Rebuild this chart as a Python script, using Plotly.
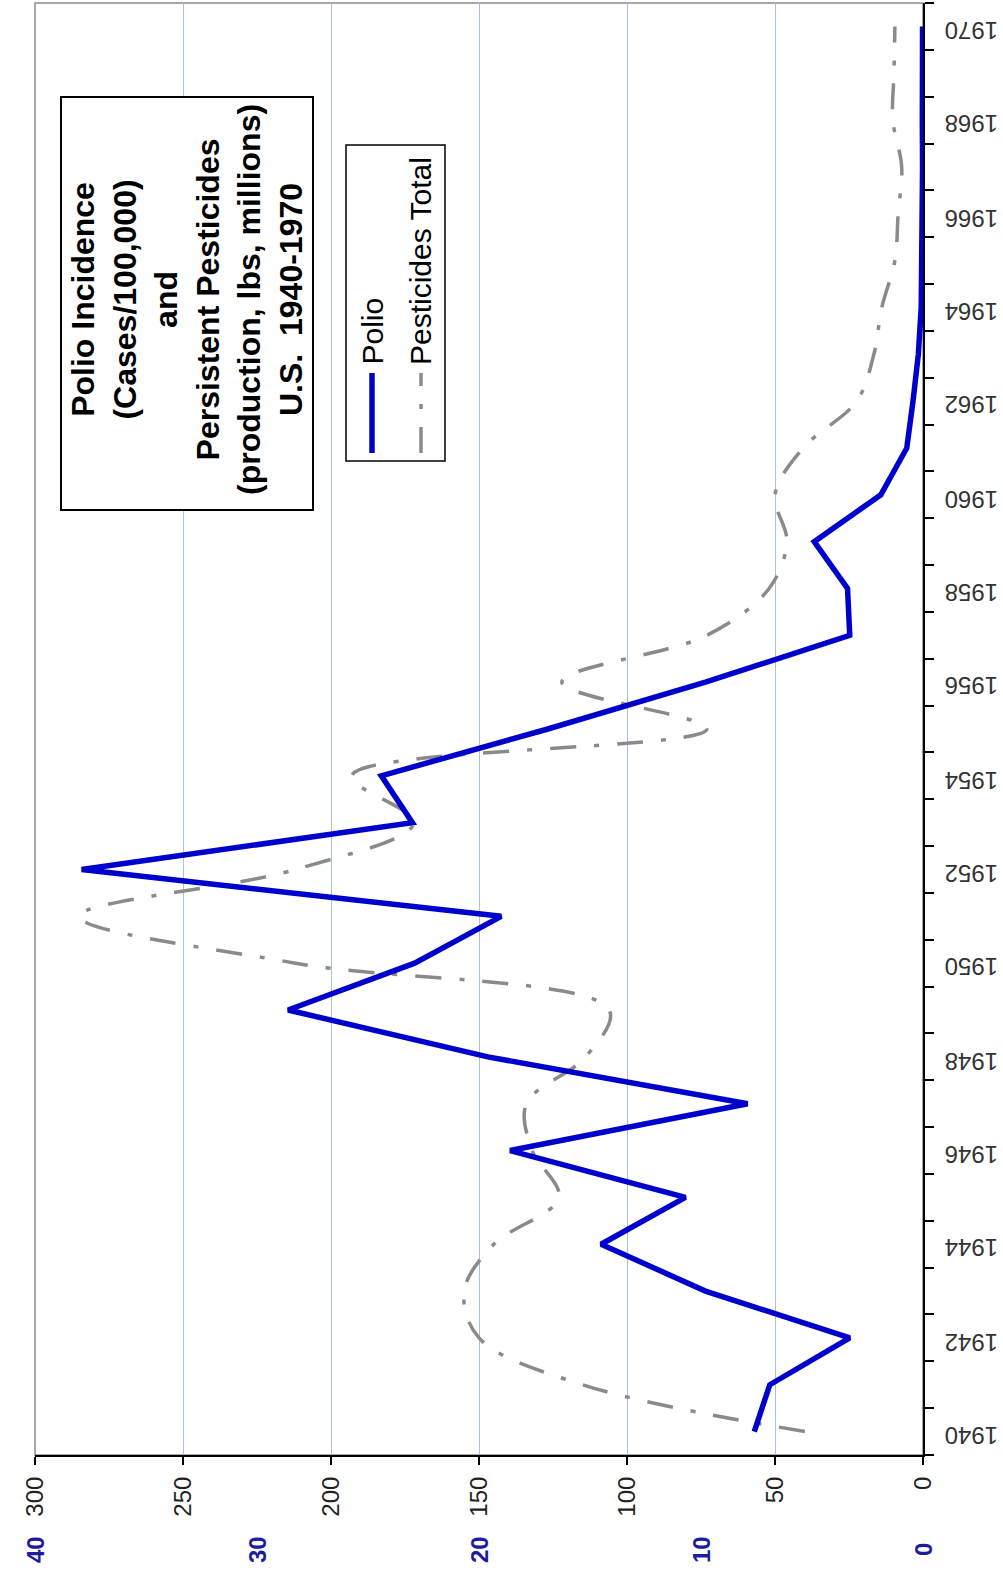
import plotly.graph_objects as go

# Series: US polio incidence (cases per 100,000) and persistent pesticide
# production (lbs, millions), 1940-1970
years = list(range(1940, 1971))
polio_rate = [7.6, 6.9, 3.3, 9.8, 14.5, 10.7, 18.6, 7.9, 19.6, 28.6, 22.9,
              19.0, 37.9, 23.0, 24.4, 16.9, 9.8, 3.3, 3.4, 4.9, 1.9,
              0.73, 0.45, 0.21, 0.08, 0.04, 0.06, 0.02, 0.03, 0.01, 0.02]
pesticides_total = [39.9, 115, 150, 155, 145, 123, 132, 134, 114, 106, 212,
                    285, 212, 172, 193, 73, 122, 73, 52, 46, 50,
                    40.5, 22.4, 16.6, 13.9, 9.5, 8.4, 7.2, 10.2, 9.8, 9.5]

pest_ticks = [0, 50, 100, 150, 200, 250, 300]
polio_ticks = [0, 10, 20, 30, 40]
year_labels = list(range(1940, 1971, 2))

title_lines = ["Polio Incidence", "(Cases/100,000)", "and",
               "Persistent Pesticides", "(production, lbs, millions)",
               "U.S.  1940-1970"]

W, H = 1003, 1595
ML, MR, MT, MB = 35, 80, 3, 140
PW, PH = W - ML - MR, H - MT - MB
FONT = "Liberation Sans, Arial, sans-serif"
BLUE = "#0000CD"
GRAY = "#8a8a8a"
DASH = "26px,18px,5px,18px"


def fx(x):
    """pixel column -> paper x"""
    return (x - ML) / PW


def fy(y):
    """pixel row -> paper y"""
    return (MT + PH - y) / PH


fig = go.Figure()

fig.add_trace(go.Scatter(
    x=pesticides_total, y=years, mode="lines", name="Pesticides Total",
    line=dict(color=GRAY, width=3.5, dash=DASH, shape="spline", smoothing=1),
    xaxis="x", yaxis="y", showlegend=False,
))
fig.add_trace(go.Scatter(
    x=polio_rate, y=years, mode="lines", name="Polio",
    line=dict(color=BLUE, width=5.5),
    xaxis="x2", yaxis="y", showlegend=False,
))

annotations = []
shapes = []

# year labels along the category axis (upside-down text)
for yr in year_labels:
    annotations.append(dict(
        x=fx(971), xref="paper", y=yr, yref="y", text=str(yr),
        showarrow=False, textangle=180, xanchor="center", yanchor="middle",
        yshift=-4, font=dict(family=FONT, size=24, color="#333"),
    ))

# secondary (polio) scale labels, bold blue, under the primary labels
for v in polio_ticks:
    annotations.append(dict(
        x=v, xref="x2", y=fy(1550), yref="paper", text=f"<b>{v}</b>",
        showarrow=False, textangle=-90, xanchor="center", yanchor="middle",
        font=dict(family=FONT, size=24, color="#1c1ca0"),
    ))

# plot-area frame (grey top/left edges)
shapes.append(dict(type="rect", xref="paper", yref="paper", x0=0, x1=1,
                   y0=0, y1=1, line=dict(color="#8c8c8c", width=1.5),
                   layer="below"))

# title box
shapes.append(dict(type="rect", xref="paper", yref="paper",
                   x0=fx(61), x1=fx(313), y0=fy(510), y1=fy(97),
                   line=dict(color="black", width=2), fillcolor="white",
                   layer="above"))
annotations.append(dict(
    x=fx(187), y=fy(300), xref="paper", yref="paper",
    text="<br>".join(f"<b>{t}</b>" for t in title_lines),
    showarrow=False, textangle=-90, align="center",
    xanchor="center", yanchor="middle",
    font=dict(family=FONT, size=32, color="black"),
))

# legend box with line samples
shapes.append(dict(type="rect", xref="paper", yref="paper",
                   x0=fx(346), x1=fx(445), y0=fy(461), y1=fy(145),
                   line=dict(color="black", width=1.5), fillcolor="white",
                   layer="above"))
shapes.append(dict(type="line", xref="paper", yref="paper",
                   x0=fx(372), x1=fx(372), y0=fy(453), y1=fy(373),
                   line=dict(color=BLUE, width=5.5), layer="above"))
shapes.append(dict(type="line", xref="paper", yref="paper",
                   x0=fx(421), x1=fx(421), y0=fy(453), y1=fy(373),
                   line=dict(color=GRAY, width=3.5, dash=DASH),
                   layer="above"))
for xc, label in [(372, "Polio"), (421, "Pesticides Total")]:
    annotations.append(dict(
        x=fx(xc), y=fy(367), xref="paper", yref="paper", text=label,
        showarrow=False, textangle=-90, xanchor="center", yanchor="bottom",
        font=dict(family=FONT, size=30, color="black"),
    ))

fig.update_layout(
    width=W, height=H,
    margin=dict(l=ML, r=MR, t=MT, b=MB, pad=0),
    paper_bgcolor="white", plot_bgcolor="white",
    showlegend=False,
    xaxis=dict(
        range=[300, 0], tickmode="array", tickvals=pest_ticks,
        ticktext=[str(v) for v in pest_ticks], tickangle=-90,
        ticks="outside", ticklen=8, tickwidth=2, tickcolor="black",
        showline=True, linecolor="black", linewidth=2,
        showgrid=True, gridcolor="#a9bfdc", gridwidth=1, zeroline=False,
        tickfont=dict(family=FONT, size=24, color="#222"),
        ticklabelstandoff=2,
    ),
    xaxis2=dict(
        range=[40, 0], overlaying="x", side="bottom", anchor="y",
        showticklabels=False, showgrid=False, showline=False, ticks="",
        zeroline=False,
    ),
    yaxis=dict(
        range=[1939.5, 1970.5], side="right", tickmode="array",
        tickvals=year_labels, showticklabels=False, ticks="",
        minor=dict(tickmode="array",
                   tickvals=[y + 0.5 for y in range(1939, 1971)],
                   ticks="outside", ticklen=9, tickwidth=2,
                   tickcolor="black", showgrid=False),
        showline=True, linecolor="black", linewidth=2,
        showgrid=False, zeroline=False,
    ),
    annotations=annotations,
    shapes=shapes,
)

fig.write_html("out.html")
